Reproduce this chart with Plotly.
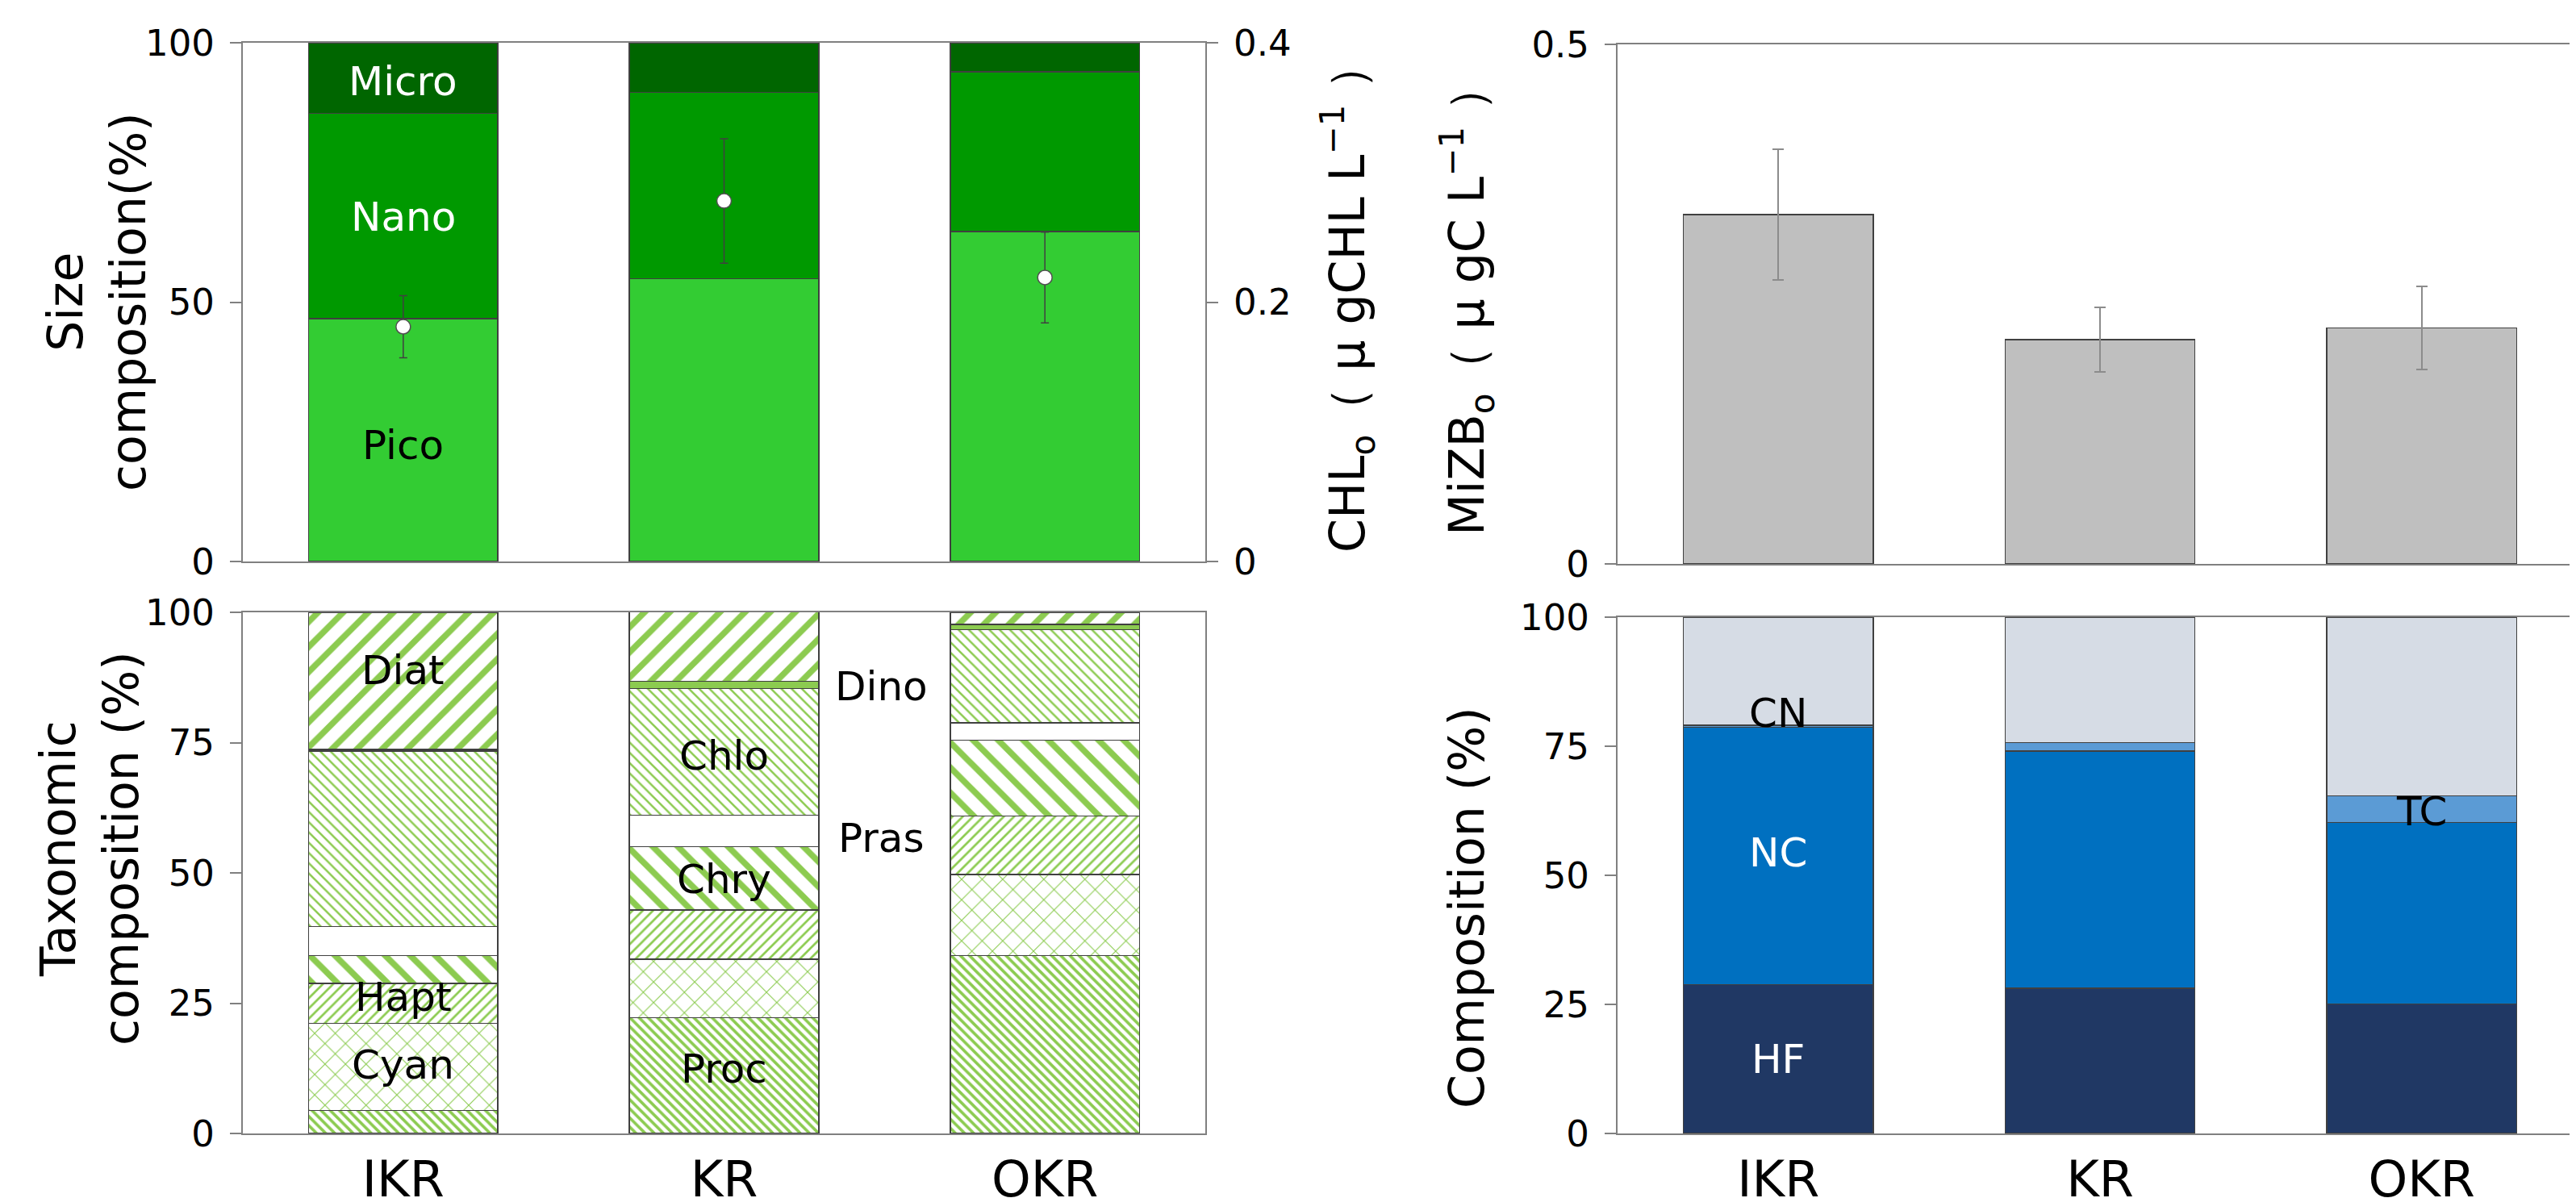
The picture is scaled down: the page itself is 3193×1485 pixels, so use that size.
import plotly.graph_objects as go

W, H = 3193, 1485

stations = ["IKR", "KR", "OKR"]

# Size composition (%)
pico = [46.8, 54.5, 63.6]
nano = [39.6, 35.9, 30.8]
micro = [13.6, 9.6, 5.6]
# CHL (ugCHL/L) with error
chl = [0.181, 0.278, 0.219]
chl_err = [0.024, 0.048, 0.035]

# Taxonomic composition (%)
tax_names = ["Proc", "Cyan", "Hapt", "Chry", "Pras", "Chlo", "Dino", "Diat"]
tax_vals = {
    "Proc": [4.4, 22.2, 34.1],
    "Cyan": [16.7, 11.2, 15.6],
    "Hapt": [7.7, 9.5, 11.2],
    "Chry": [5.3, 12.1, 14.6],
    "Pras": [5.6, 6.1, 3.3],
    "Chlo": [33.7, 24.3, 17.9],
    "Dino": [0.3, 1.4, 1.0],
    "Diat": [26.3, 13.3, 2.3],
}

# MiZB (ugC/L)
mizb = [0.336, 0.216, 0.227]
mizb_err = [0.063, 0.031, 0.040]

# Micro-zooplankton composition (%)
hf = [28.8, 28.1, 25.1]
nc = [49.9, 46.0, 35.1]
tc = [0.4, 1.6, 5.2]
cn = [20.9, 24.3, 34.6]

FONT = "DejaVu Sans"
GREEN = "#8CCB50"
EDGE = "#404040"
AX = "#808080"
OFF = 8  # page body margin

def px_x(p):
    return (p - OFF) / W

def px_y(p):
    return 1 - (p - OFF) / H

fig = go.Figure()

# ---- top-left: size composition
for name, vals, col in [("Pico", pico, "#33CC33"), ("Nano", nano, "#009900"), ("Micro", micro, "#006600")]:
    fig.add_trace(go.Bar(x=stations, y=vals, name=name, marker=dict(color=col, line=dict(color=EDGE, width=1.5)),
                         xaxis="x", yaxis="y", showlegend=False))
fig.add_trace(go.Scatter(x=stations, y=chl, mode="markers", xaxis="x", yaxis="y2", showlegend=False,
                         marker=dict(symbol="circle", size=18, color="white", line=dict(color="#505050", width=1.5)),
                         error_y=dict(type="data", array=chl_err, color="#404040", thickness=1.5, width=5)))

# ---- bottom-left: taxonomic composition
patterns = {
    "Proc": dict(shape="\\", size=8, solidity=0.45),
    "Cyan": dict(shape="x", size=18, solidity=0.12),
    "Hapt": dict(shape="/", size=9, solidity=0.3),
    "Chry": dict(shape="\\", size=22, solidity=0.35),
    "Pras": dict(shape="", size=8, solidity=0.0),
    "Chlo": dict(shape="\\", size=9, solidity=0.28),
    "Dino": dict(shape="", size=8, solidity=1.0),
    "Diat": dict(shape="/", size=22, solidity=0.35),
}
for name in tax_names:
    pat = patterns[name]
    col = GREEN if name == "Dino" else "white"
    mk = dict(color=col, line=dict(color=EDGE, width=1.5))
    if pat["shape"]:
        mk["pattern"] = dict(shape=pat["shape"], fgcolor=GREEN, bgcolor="white", size=pat["size"],
                             solidity=pat["solidity"], fillmode="replace")
    fig.add_trace(go.Bar(x=stations, y=tax_vals[name], name=name, marker=mk,
                         xaxis="x2", yaxis="y3", showlegend=False))

# ---- top-right: MiZB
fig.add_trace(go.Bar(x=stations, y=mizb, marker=dict(color="#BFBFBF", line=dict(color=EDGE, width=1.5)),
                     error_y=dict(type="data", array=mizb_err, color="#8C8C8C", thickness=2, width=7),
                     xaxis="x3", yaxis="y4", showlegend=False))

# ---- bottom-right: composition
for name, vals, col in [("HF", hf, "#203864"), ("NC", nc, "#0070C0"), ("TC", tc, "#5B9BD5"), ("CN", cn, "#D6DCE5")]:
    fig.add_trace(go.Bar(x=stations, y=vals, name=name, marker=dict(color=col, line=dict(color=EDGE, width=1.5)),
                         xaxis="x4", yaxis="y5", showlegend=False))

tickfont = dict(family=FONT, size=45, color="#000000")
catfont = dict(family=FONT, size=62, color="#000000")

left_dom = [px_x(301), px_x(1494)]
right_dom = [px_x(2005), 1.0]
top_dom_l = [px_y(696), px_y(53)]
top_dom_r = [px_y(699), px_y(55)]
bot_dom_l = [px_y(1405), px_y(759)]
bot_dom_r = [px_y(1405), px_y(765)]

common_x = dict(range=[-0.5, 2.5], showline=True, linecolor=AX, linewidth=2, ticks="", showgrid=False,
                zeroline=False, categoryorder="array", categoryarray=stations, automargin=False)
common_y = dict(showline=True, linecolor=AX, linewidth=2, ticks="outside", ticklen=14, tickwidth=2, tickcolor=AX,
                showgrid=False, zeroline=False, tickfont=tickfont, ticklabelstandoff=10, automargin=False)

fig.update_layout(
    width=W, height=H, margin=dict(l=0, r=0, t=0, b=0, autoexpand=False),
    paper_bgcolor="white", plot_bgcolor="white",
    barmode="stack", bargap=0.41,
    font=dict(family=FONT),
    xaxis=dict(domain=left_dom, anchor="y", mirror=True, showticklabels=False, **common_x),
    yaxis=dict(domain=top_dom_l, anchor="x", range=[0, 100], tickvals=[0, 50, 100], mirror=False, **common_y),
    yaxis2=dict(overlaying="y", side="right", anchor="x", range=[0, 0.4], tickvals=[0, 0.2, 0.4],
                ticktext=["0", "0.2", "0.4"], **common_y),
    xaxis2=dict(domain=left_dom, anchor="y3", mirror=True, showticklabels=True, tickfont=catfont,
                ticklabelstandoff=2, **common_x),
    yaxis3=dict(domain=bot_dom_l, anchor="x2", range=[0, 100], tickvals=[0, 25, 50, 75, 100], mirror=True, **common_y),
    xaxis3=dict(domain=right_dom, anchor="y4", mirror=True, showticklabels=False, **common_x),
    yaxis4=dict(domain=top_dom_r, anchor="x3", range=[0, 0.5], tickvals=[0, 0.5], ticktext=["0", "0.5"],
                mirror=False, **common_y),
    xaxis4=dict(domain=right_dom, anchor="y5", mirror=True, showticklabels=True, tickfont=catfont,
                ticklabelstandoff=2, **common_x),
    yaxis5=dict(domain=bot_dom_r, anchor="x4", range=[0, 100], tickvals=[0, 25, 50, 75, 100], mirror=False, **common_y),
)

ann = []
def add_lab(text, x, y, xref, yref, color="black"):
    ann.append(dict(text=text, x=x, y=y, xref=xref, yref=yref, showarrow=False,
                    font=dict(family=FONT, size=50, color=color)))

add_lab("Micro", "IKR", 92.5, "x", "y", "white")
add_lab("Nano", "IKR", 66.4, "x", "y", "white")
add_lab("Pico", "IKR", 22.4, "x", "y", "black")

add_lab("Diat", "IKR", 88.9, "x2", "y3")
add_lab("Hapt", "IKR", 26.2, "x2", "y3")
add_lab("Cyan", "IKR", 13.2, "x2", "y3")
add_lab("Chlo", "KR", 72.4, "x2", "y3")
add_lab("Chry", "KR", 48.8, "x2", "y3")
add_lab("Proc", "KR", 12.4, "x2", "y3")
add_lab("Dino", 1.49, 85.8, "x2", "y3")
add_lab("Pras", 1.49, 56.7, "x2", "y3")

add_lab("CN", "IKR", 81.4, "x4", "y5")
add_lab("NC", "IKR", 54.4, "x4", "y5", "white")
add_lab("HF", "IKR", 14.4, "x4", "y5", "white")
add_lab("TC", "OKR", 62.3, "x4", "y5")

tf = dict(family=FONT, size=60, color="black")
def add_title(text, xp, yp):
    ann.append(dict(text=text, x=px_x(xp), y=px_y(yp), xref="paper", yref="paper", showarrow=False,
                    textangle=-90, font=tf, xanchor="center", yanchor="middle"))

add_title("Size<br>composition(%)", 120, 374)
add_title("Taxonomic<br>composition (%)", 111, 1052)
add_title("CHL<sub>o</sub>（ μ gCHL L<sup>−1</sup> ）", 1670, 368)
add_title("MiZB<sub>o</sub>（ μ gC L<sup>−1</sup> ）", 1818, 371)
add_title("Composition (%)", 1818, 1125)

fig.update_layout(annotations=ann)
fig.write_html("out.html")
